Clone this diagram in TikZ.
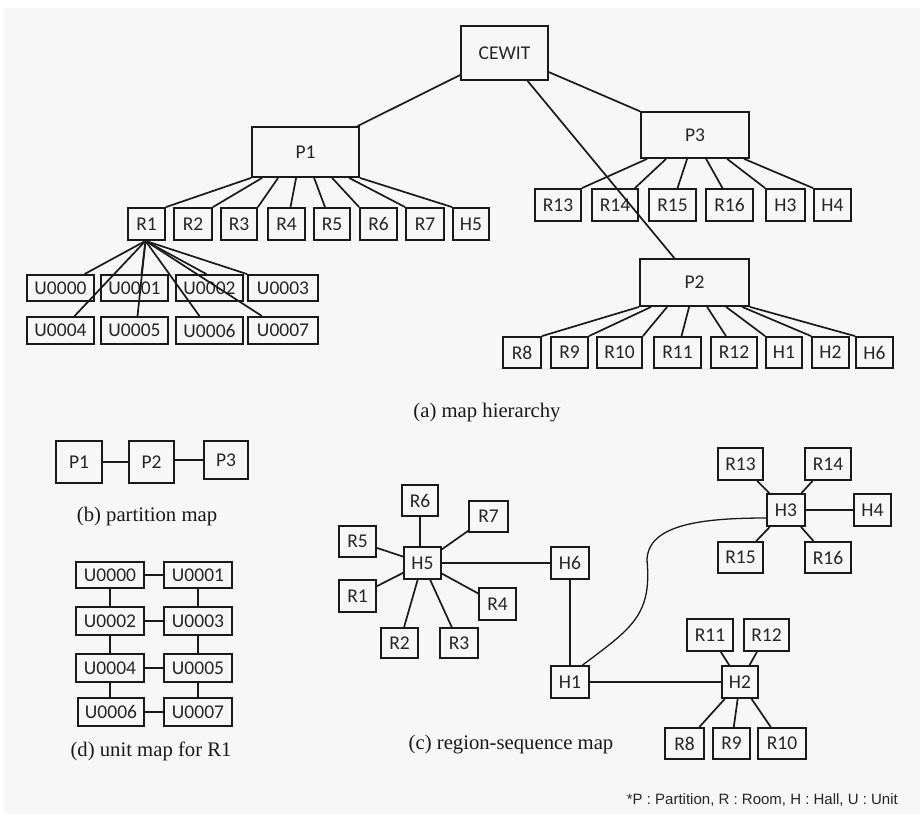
\documentclass[tikz,border=0pt]{standalone}
\usepackage{fontspec}
\setmainfont{Liberation Serif}
\newfontfamily\boxfont{Carlito}
\newfontfamily\notefont{Liberation Sans}
\definecolor{bgcol}{HTML}{F7F7F7}
\definecolor{inkcol}{HTML}{1A1A1A}
\begin{document}
\begin{tikzpicture}[x=1pt,y=-1pt,
  bx/.style={draw=inkcol, line width=1.8pt, inner sep=0pt, text=black!85,
             font=\boxfont\fontsize{19.5}{20}\selectfont},
  ln/.style={draw=inkcol, line width=1.7pt},
  captxt/.style={font=\fontsize{20.7}{22}\selectfont, text=black!90, inner sep=0pt},
  notetxt/.style={font=\notefont\fontsize{15}{16}\selectfont, text=black!85, inner sep=0pt}]
\useasboundingbox (0,0) rectangle (923,819);
\fill[white] (0,0) rectangle (923,819);
\fill[bgcol] (4,8) rectangle (920,814);

% ---------------- (a) map hierarchy ----------------
\node[bx, minimum width=87, minimum height=54] (CEWIT) at (504.5,53) {CEWIT};
\node[bx, minimum width=107, minimum height=50] (P1) at (305.5,152) {P1};
\node[bx, minimum width=108, minimum height=46] (P3) at (695,135) {P3};
\node[bx, minimum width=109, minimum height=47] (P2) at (694.5,282.5) {P2};

\foreach \n/\x/\w in {R1/146.5/37, R2/193/38, R3/239/36, R4/286.5/37, R5/332/36, R6/378.5/37, R7/425/38, H5/471/36}
  \node[bx, minimum width=\w, minimum height=32] (a\n) at (\x,224) {\n};
\foreach \n/\x/\w in {R13/558/46, R14/615/46, R15/672.5/47, R16/729.5/47, H3/785.5/39, H4/832.5/37}
  \node[bx, minimum width=\w, minimum height=32] (a\n) at (\x,205) {\n};
\foreach \n/\x/\w in {R8/522/38, R9/569.5/37, R10/619.5/45, R11/677.5/47, R12/734/46, H1/784/36, H2/830.5/37, H6/874.5/37}
  \node[bx, minimum width=\w, minimum height=31] (a\n) at (\x,352.5) {\n};
\foreach \n/\x/\w in {U0000/60.5/67, U0001/134.5/67, U0002/209.5/67, U0003/283/70}
  \node[bx, minimum width=\w, minimum height=26] (a\n) at (\x,288) {\n};
\foreach \n/\x/\w in {U0004/60.5/67, U0005/134.5/67, U0006/209.5/67, U0007/283/70}
  \node[bx, minimum width=\w, minimum height=27] (a\n) at (\x,330.5) {\n};

\draw[ln] (CEWIT) -- (P1);
\draw[ln] (CEWIT) -- (P3);
\draw[ln] (CEWIT) -- (P2);

% P1 fan
\draw[ln] (P1.south west) -- (aR1.north east);
\draw[ln] ([xshift=11]P1.south west) -- (aR2.north east);
\draw[ln] ([xshift=27]P1.south west) -- (aR3.north east);
\draw[ln] ([xshift=45]P1.south west) -- ([xshift=4]aR4.north);
\draw[ln] ([xshift=63]P1.south west) -- ([xshift=-7]aR5.north);
\draw[ln] ([xshift=81]P1.south west) -- (aR6.north west);
\draw[ln] ([xshift=98]P1.south west) -- (aR7.north west);
\draw[ln] (P1.south east) -- (aH5.north west);

% P3 fan
\draw[ln] ([xshift=7]P3.south west) -- (aR13.north east);
\draw[ln] ([xshift=26]P3.south west) -- ([xshift=-4]aR14.north east);
\draw[ln] ([xshift=47]P3.south west) -- ([xshift=5]aR15.north);
\draw[ln] ([xshift=66]P3.south west) -- ([xshift=-7]aR16.north);
\draw[ln] ([xshift=87]P3.south west) -- (aH3.north west);
\draw[ln] ([xshift=104]P3.south west) -- (aH4.north west);

% P2 fan
\draw[ln] (P2.south west) -- (aR8.north east);
\draw[ln] ([xshift=12]P2.south west) -- (aR9.north east);
\draw[ln] ([xshift=28]P2.south west) -- (aR10.north east);
\draw[ln] ([xshift=50]P2.south west) -- ([xshift=4]aR11.north);
\draw[ln] ([xshift=68]P2.south west) -- ([xshift=-8]aR12.north);
\draw[ln] ([xshift=87]P2.south west) -- (aH1.north west);
\draw[ln] ([xshift=103]P2.south west) -- (aH2.north west);
\draw[ln] (P2.south east) -- (aH6.north west);

% R1 fan to units
\draw[ln] ([xshift=-1]aR1.south) -- ([xshift=24]aU0000.north);
\draw[ln] ([xshift=-1]aR1.south) -- ([xshift=7]aU0001.north);
\draw[ln] ([xshift=-1]aR1.south) -- ([xshift=-3]aU0002.north);
\draw[ln] ([xshift=-1]aR1.south) -- (aU0003.north west);
\draw[ln] ([xshift=-1]aR1.south) -- ([xshift=14]aU0004.north);
\draw[ln] ([xshift=-1]aR1.south) -- ([xshift=3]aU0005.north);
\draw[ln] ([xshift=-1]aR1.south) -- ([xshift=-10]aU0006.north);
\draw[ln] ([xshift=-1]aR1.south) -- ([xshift=-21]aU0007.north);

\node[captxt] (capa) at (487,413) {(a) map hierarchy};

% ---------------- (b) partition map ----------------
\node[bx, minimum width=46, minimum height=42] (bP1) at (79,462) {P1};
\node[bx, minimum width=45, minimum height=42] (bP2) at (151.5,462) {P2};
\node[bx, minimum width=44, minimum height=38] (bP3) at (226,460) {P3};
\draw[ln] (bP1) -- (bP2);
\draw[ln] (bP3.west -| bP2.east) -- (bP3.west);
\node[captxt] (capb) at (147,517) {(b) partition map};

% ---------------- (d) unit map for R1 ----------------
\node[bx, minimum width=68, minimum height=26] (dU0000) at (110,575) {U0000};
\node[bx, minimum width=68, minimum height=26] (dU0001) at (198,575) {U0001};
\node[bx, minimum width=68, minimum height=28] (dU0002) at (110,621) {U0002};
\node[bx, minimum width=68, minimum height=28] (dU0003) at (198,621) {U0003};
\node[bx, minimum width=68, minimum height=28] (dU0004) at (110,668) {U0004};
\node[bx, minimum width=68, minimum height=28] (dU0005) at (198,668) {U0005};
\node[bx, minimum width=66, minimum height=28] (dU0006) at (111,712) {U0006};
\node[bx, minimum width=68, minimum height=28] (dU0007) at (198,712) {U0007};
\draw[ln] (dU0000) -- (dU0001);
\draw[ln] (dU0002) -- (dU0003);
\draw[ln] (dU0004) -- (dU0005);
\draw[ln] (dU0006) -- (dU0007);
\draw[ln] (dU0000) -- (dU0002);
\draw[ln] (dU0002) -- (dU0004);
\draw[ln] (dU0004.south) -- (dU0004.south |- dU0006.north);
\draw[ln] (dU0001) -- (dU0003);
\draw[ln] (dU0003) -- (dU0005);
\draw[ln] (dU0005) -- (dU0007);
\node[captxt] (capd) at (151,751) {(d) unit map for R1};

% ---------------- (c) region-sequence map ----------------
\node[bx, minimum width=37, minimum height=32] (cH5) at (422.5,563) {H5};
\node[bx, minimum width=36, minimum height=31] (cR6) at (420,500.5) {R6};
\node[bx, minimum width=39, minimum height=31] (cR7) at (488.5,516.5) {R7};
\node[bx, minimum width=37, minimum height=31] (cR5) at (357.5,541.5) {R5};
\node[bx, minimum width=37, minimum height=32] (cR1) at (357.5,596) {R1};
\node[bx, minimum width=37, minimum height=32] (cR4) at (497.5,604) {R4};
\node[bx, minimum width=37, minimum height=30] (cR2) at (399.5,643) {R2};
\node[bx, minimum width=38, minimum height=30] (cR3) at (459,643) {R3};
\node[bx, minimum width=38, minimum height=32] (cH6) at (570,563) {H6};
\node[bx, minimum width=38, minimum height=32] (cH1) at (570,682) {H1};
\node[bx, minimum width=36, minimum height=32] (cH2) at (740,682) {H2};
\node[bx, minimum width=46, minimum height=32] (cR11) at (710,635) {R11};
\node[bx, minimum width=45, minimum height=32] (cR12) at (766.5,635) {R12};
\node[bx, minimum width=39, minimum height=31] (cR8) at (684.5,743.5) {R8};
\node[bx, minimum width=37, minimum height=31] (cR9) at (731.5,743.5) {R9};
\node[bx, minimum width=48, minimum height=31] (cR10) at (782,743.5) {R10};
\node[bx, minimum width=38, minimum height=32] (cH3) at (786,510) {H3};
\node[bx, minimum width=37, minimum height=32] (cH4) at (872.5,510) {H4};
\node[bx, minimum width=45, minimum height=32] (cR13) at (740.5,464) {R13};
\node[bx, minimum width=46, minimum height=32] (cR14) at (828,464) {R14};
\node[bx, minimum width=45, minimum height=31] (cR15) at (740.5,557.5) {R15};
\node[bx, minimum width=46, minimum height=31] (cR16) at (828,557.5) {R16};

\draw[ln] (cR6.south) -- (cR6.south |- cH5.north);
\foreach \n in {R7,R5,R1,R4,R2,R3} \draw[ln] (cH5) -- (c\n);
\draw[ln] (cH5) -- (cH6);
\draw[ln] (cH6) -- (cH1);
\draw[ln] (cH1) -- (cH2);
\foreach \n in {R11,R12,R8,R9,R10} \draw[ln] (cH2) -- (c\n);
\foreach \n in {R13,R14,R15,R16} \draw[ln] (cH3) -- (c\n);
\draw[ln] (cH3) -- (cH4);
\draw[ln, line width=1.3pt] ([yshift=-8]cH3.west) .. controls (700,518) and (648,525) .. (647,560)
   .. controls (652,615) and (632,628) .. ([xshift=12.5]cH1.north);
\node[captxt] (capc) at (511,745) {(c) region-sequence map};

\node[notetxt, anchor=east] (note) at (898,800) {*P : Partition, R : Room, H : Hall, U : Unit};
\end{tikzpicture}
\end{document}
